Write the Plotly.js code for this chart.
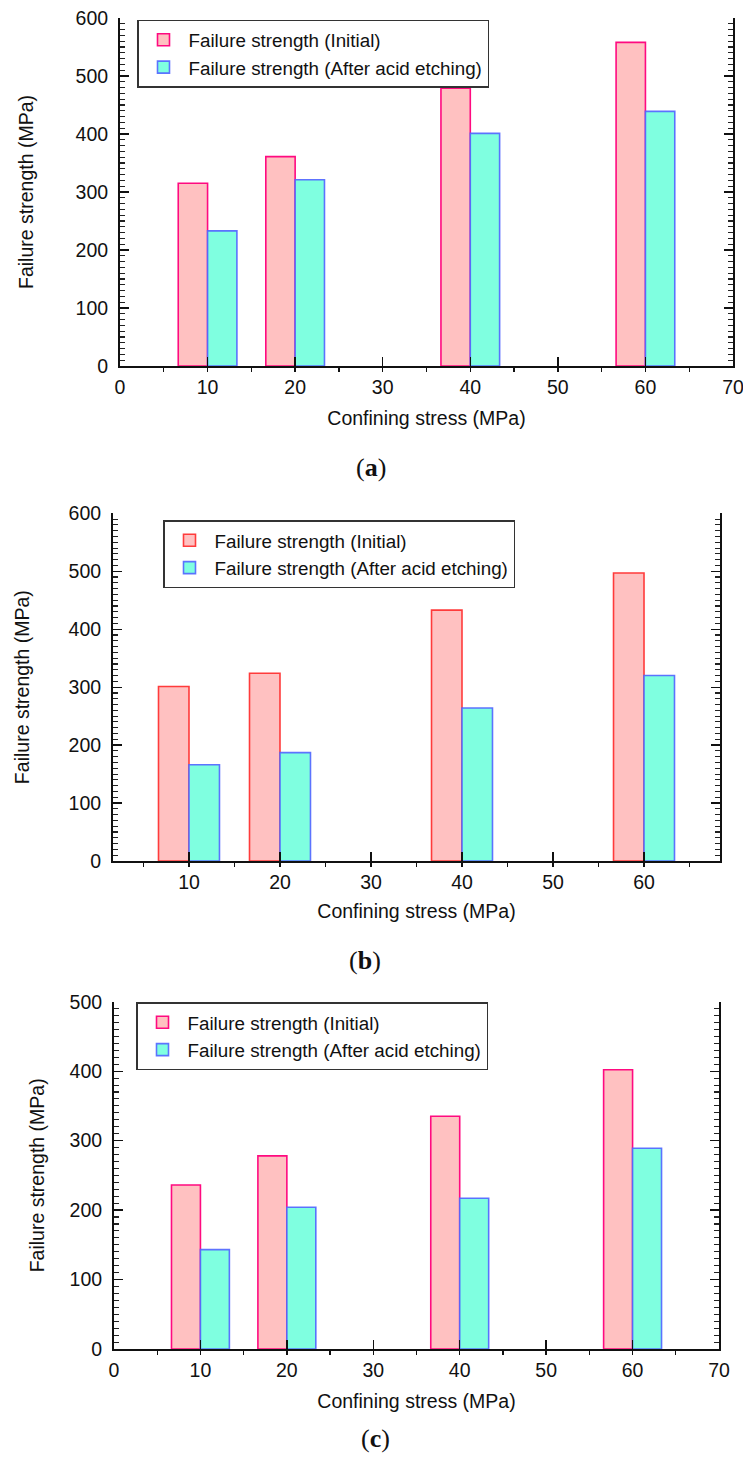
<!DOCTYPE html>
<html>
<head>
<meta charset="utf-8">
<script src="https://cdn.plot.ly/plotly-3.0.1.min.js"></script>
<style>
html,body{margin:0;padding:0;background:#fff;}
#chart{width:743px;height:1466px;}
</style>
</head>
<body>
<div id="chart"></div>
<script>
// ---- data ----
const categories = [10, 20, 40, 60];               // confining stress (MPa)
const seriesNames = ['Failure strength (Initial)', 'Failure strength (After acid etching)'];
const initialA = [315, 361, 479, 558];
const etchedA  = [233, 321, 401, 439];
const initialB = [301, 324, 433, 497];
const etchedB  = [166, 187, 264, 320];
const initialC = [236, 278, 335, 402];
const etchedC  = [143, 204, 217, 289];
const xTicksAC = [0, 10, 20, 30, 40, 50, 60, 70];
const xTicksB  = [10, 20, 30, 40, 50, 60];
const yTicks600 = [0, 100, 200, 300, 400, 500, 600];
const yTicks500 = [0, 100, 200, 300, 400, 500];
const captions = ['a', 'b', 'c'];
const xTitle = 'Confining stress (MPa)';
const yTitle = 'Failure strength (MPa)';

// ---- styles ----
const FONT = 'Liberation Sans, Arial, sans-serif';
const FS = 19.5;
const LFS = 18.8;
const fillInit = '#FFC1C1';
const fillEtch = '#7FFFE0';
const lineEtch = 'rgba(80,100,255,0.9)';
const BW = 3.35;

function barPair(init, etch, lineInit, xa, ya, leg) {
  return [
    {type:'bar', x:categories, y:init, name:seriesNames[0], xaxis:xa, yaxis:ya, legend:leg,
     width:BW, offset:-BW, marker:{color:fillInit, line:{color:lineInit, width:1.6}}},
    {type:'bar', x:categories, y:etch, name:seriesNames[1], xaxis:xa, yaxis:ya, legend:leg,
     width:BW, offset:0, marker:{color:fillEtch, line:{color:lineEtch, width:1.6}}}
  ];
}

const data = [].concat(
  barPair(initialA, etchedA, '#FF0A80', 'x', 'y', 'legend'),
  barPair(initialB, etchedB, '#FF3B3B', 'x2', 'y2', 'legend2'),
  barPair(initialC, etchedC, '#FF0A80', 'x3', 'y3', 'legend3')
);

const W = 743, H = 1466;
const px = v => v / W;
const py = v => 1 - v / H;

function xAxis(dom, range, ticks, anchor, standoff) {
  return {
    domain:[px(dom[0]), px(dom[1])], anchor:anchor, range:range,
    tickmode:'array', tickvals:ticks, ticktext:ticks.map(String),
    ticks:'inside', ticklen:9, tickwidth:1.3, tickcolor:'#111',
    minor:{dtick:5, tick0:0, ticks:'outside', ticklen:4, tickwidth:1.3, tickcolor:'#111'},
    showline:true, linecolor:'#111', linewidth:2, mirror:false,
    showgrid:false, zeroline:false, fixedrange:true,
    tickfont:{family:FONT, size:FS, color:'#111'}, ticklabelstandoff:3,
    ticklabeloverflow:'allow',
    title:{text:xTitle, font:{family:FONT, size:FS, color:'#111'}, standoff:standoff},
    automargin:false
  };
}
function xTop(over, range, anchor) {
  return {
    overlaying:over, side:'top', anchor:anchor, range:range,
    tickmode:'linear', tick0:0, dtick:10,
    ticks:'inside', ticklen:8, tickwidth:1.2, tickcolor:'#333',
    minor:{dtick:5, tick0:0, ticks:'inside', ticklen:5, tickwidth:1.2, tickcolor:'#333'},
    showticklabels:false, showline:true, linecolor:'#333', linewidth:1.6,
    showgrid:false, zeroline:false, fixedrange:true, automargin:false
  };
}
function yAxis(dom, range, ticks, anchor, standoff) {
  return {
    domain:[py(dom[1]), py(dom[0])], anchor:anchor, range:range,
    tickmode:'array', tickvals:ticks, ticktext:ticks.map(String),
    ticks:'inside', ticklen:9, tickwidth:1.3, tickcolor:'#111',
    minor:{dtick:10, tick0:0, ticks:'inside', ticklen:5, tickwidth:1.1, tickcolor:'#222'},
    showline:true, linecolor:'#111', linewidth:2, mirror:'ticks',
    showgrid:false, zeroline:false, fixedrange:true,
    tickfont:{family:FONT, size:FS, color:'#111'}, ticklabelstandoff:6,
    ticklabeloverflow:'allow',
    title:{text:yTitle, font:{family:FONT, size:FS, color:'#111'}, standoff:standoff},
    automargin:false
  };
}
function legendAt(x, y) {
  return {x:px(x), y:py(y), xanchor:'left', yanchor:'top', bgcolor:'#fff',
    bordercolor:'#333', borderwidth:1.5, font:{family:FONT, size:LFS, color:'#111'},
    tracegroupgap:0, itemwidth:40, orientation:'v'};
}

const rangeA = [0, 70], rangeB = [1.65, 68.35], rangeC = [0, 70];

const layout = {
  width:W, height:H, margin:{l:0, r:0, t:0, b:0},
  paper_bgcolor:'#fff', plot_bgcolor:'#fff', showlegend:true, barmode:'overlay',
  font:{family:FONT, size:FS, color:'#111'},
  xaxis: xAxis([120, 733], rangeA, xTicksAC, 'y', 14),
  yaxis: yAxis([18, 366], [0, 600], yTicks600, 'x', 37),
  xaxis2: xAxis([113, 720], rangeB, xTicksB, 'y2', 12),
  yaxis2: yAxis([513.3, 861], [0, 600], yTicks600, 'x2', 34),
  xaxis3: xAxis([114, 719], rangeC, xTicksAC, 'y3', 14),
  yaxis3: yAxis([1001.7, 1349], [0, 500], yTicks500, 'x3', 20),
  xaxis4: xTop('x', rangeA, 'y'),
  xaxis5: xTop('x2', rangeB, 'y2'),
  xaxis6: xTop('x3', rangeC, 'y3'),
  legend: legendAt(137, 19.5),
  legend2: legendAt(163, 520),
  legend3: legendAt(136, 1002),
  annotations: [[371, 467], [365, 960], [375, 1438]].map((p, i) => ({
    xref:'paper', yref:'paper', x:px(p[0]), y:py(p[1]), xanchor:'center', yanchor:'middle',
    showarrow:false, text:'(<b>' + captions[i] + '</b>)',
    font:{family:'Liberation Serif, DejaVu Serif, serif', size:26, color:'#111'}
  }))
};

Plotly.newPlot('chart', data, layout, {staticPlot:true, displayModeBar:false});
</script>
</body>
</html>
